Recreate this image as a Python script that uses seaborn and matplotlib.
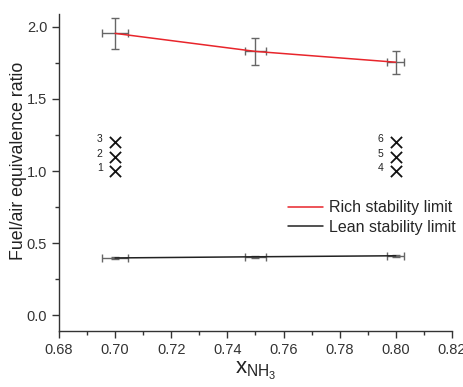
import matplotlib
matplotlib.use("Agg")
import matplotlib.pyplot as plt
import seaborn as sns
import pandas as pd
from matplotlib.ticker import MultipleLocator

sns.set_theme(style="ticks")
plt.rcParams['font.family'] = ['Liberation Sans', 'DejaVu Sans']

x_nh3 = [0.70, 0.75, 0.80]
rich = [1.955, 1.83, 1.755]
rich_yerr = [0.105, 0.095, 0.08]
lean = [0.397, 0.405, 0.412]
lean_yerr = [0.008, 0.008, 0.008]
xerr = [0.0045, 0.0037, 0.003]

case_x = [0.70, 0.70, 0.70, 0.80, 0.80, 0.80]
case_y = [1.0, 1.1, 1.2, 1.0, 1.1, 1.2]
case_labels = ["1", "2", "3", "4", "5", "6"]

df = pd.DataFrame({
    "x": x_nh3 * 2,
    "y": rich + lean,
    "series": ["Rich stability limit"] * 3 + ["Lean stability limit"] * 3,
})

fig = plt.figure(figsize=(4.63, 3.87), dpi=100)
ax = fig.add_axes([0.1274, 0.1447, 0.976 - 0.1274, 0.964 - 0.1447])

sns.lineplot(data=df, x="x", y="y", hue="series",
             palette={"Rich stability limit": "#e8252b", "Lean stability limit": "#222222"},
             linewidth=1.1, ax=ax)

ax.errorbar(x_nh3, rich, yerr=rich_yerr, xerr=xerr, fmt="none", ecolor="#666666",
            elinewidth=1.0, capsize=3, capthick=1.0, zorder=1)
ax.errorbar(x_nh3, lean, yerr=lean_yerr, xerr=xerr, fmt="none", ecolor="#666666",
            elinewidth=1.0, capsize=3, capthick=1.0, zorder=1)

sns.scatterplot(x=case_x, y=case_y, marker="x", s=65, color="#111111",
                linewidth=1.3, ax=ax, legend=False)
for cx, cy, lab in zip(case_x, case_y, case_labels):
    ax.annotate(lab, (cx, cy), xytext=(-9, 2), textcoords="offset points",
                fontsize=7.5, ha="right", va="center", color="#222222")

ax.set_xlim(0.68, 0.82)
ax.set_ylim(-0.11, 2.09)
ax.xaxis.set_major_locator(MultipleLocator(0.02))
ax.xaxis.set_minor_locator(MultipleLocator(0.01))
ax.yaxis.set_major_locator(MultipleLocator(0.5))
ax.yaxis.set_minor_locator(MultipleLocator(0.25))
ax.xaxis.set_major_formatter(matplotlib.ticker.FormatStrFormatter("%.2f"))
ax.yaxis.set_major_formatter(matplotlib.ticker.FormatStrFormatter("%.1f"))
ax.tick_params(which="major", length=5, width=1, color="#333333", labelsize=10.5, labelcolor="#333333")
ax.tick_params(which="minor", length=3, width=1, color="#333333")
for s in ["left", "bottom"]:
    ax.spines[s].set_color("#333333")
    ax.spines[s].set_linewidth(1)
sns.despine(ax=ax)

ax.set_xlabel(r"$\mathregular{x_{NH_3}}$", fontsize=16, color="#222222", labelpad=2)
ax.set_ylabel("Fuel/air equivalence ratio", fontsize=12.8, color="#222222")
ax.yaxis.set_label_coords(-0.082, 0.536)

ax.legend(loc="center left", bbox_to_anchor=(0.566, 0.358), frameon=False,
          fontsize=11.5, handlelength=2.2, handletextpad=0.37, labelspacing=0.3,
          borderaxespad=0.0)
ax.get_legend().set_title(None)

fig.savefig("out.png", dpi=100)
